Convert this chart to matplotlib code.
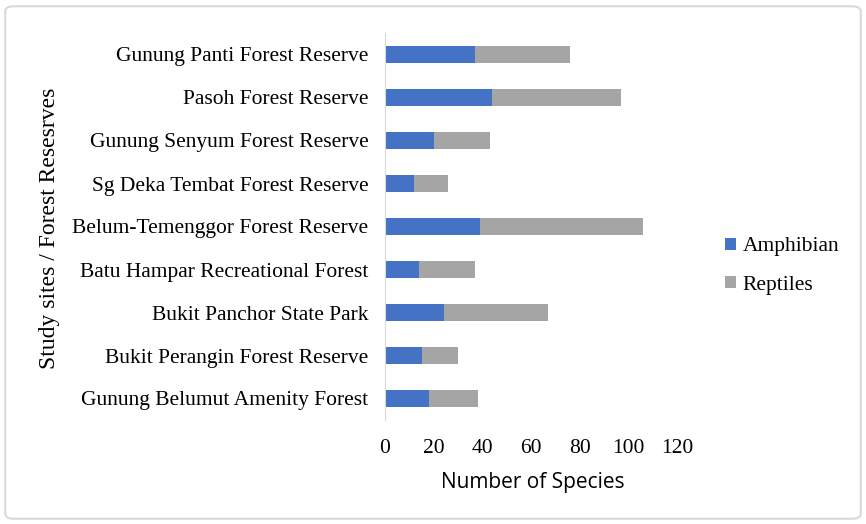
import matplotlib
matplotlib.use("Agg")
import matplotlib.pyplot as plt
from matplotlib.patches import FancyBboxPatch

sites = ["Gunung Panti Forest Reserve", "Pasoh Forest Reserve", "Gunung Senyum Forest Reserve",
         "Sg Deka Tembat Forest Reserve", "Belum-Temenggor Forest Reserve",
         "Batu Hampar Recreational Forest", "Bukit Panchor State Park",
         "Bukit Perangin Forest Reserve", "Gunung Belumut Amenity Forest"]
amphibian = [37, 44, 20, 12, 39, 14, 24, 15, 18]
reptiles = [39, 53, 23, 14, 67, 23, 43, 15, 20]
xticks = [0, 20, 40, 60, 80, 100, 120]

fig = plt.figure(figsize=(8.66, 5.24), dpi=100)
border = FancyBboxPatch((0.006, 0.01), 0.988, 0.978, boxstyle="round,pad=0,rounding_size=0.01",
                        transform=fig.transFigure, fill=False, edgecolor="#d9d9d9", linewidth=1.5)
fig.patches.append(border)

ax = fig.add_axes([385/866, 1-420/524, 295/866, (420-33)/524])
y = list(range(len(sites)))[::-1]
ax.barh(y, amphibian, height=0.4, color="#4472C4", label="Amphibian")
ax.barh(y, reptiles, left=amphibian, height=0.4, color="#A5A5A5", label="Reptiles")
ax.set_ylim(-0.5, len(sites)-0.5)
ax.set_xlim(0, 121)
ax.set_yticks(y)
ax.set_yticklabels(sites, fontfamily="Liberation Serif", fontsize=15.5)
ax.set_xticks(xticks)
ax.set_xticklabels([str(t) for t in xticks], fontfamily="Liberation Serif", fontsize=15.5)
ax.tick_params(length=0)
ax.tick_params(axis="y", pad=12)
ax.tick_params(axis="x", pad=14)
for s in ["top", "right", "bottom"]:
    ax.spines[s].set_visible(False)
ax.spines["left"].set_color("#d9d9d9")
ax.set_xlabel("Number of Species", fontfamily="Open Sans", fontsize=15, labelpad=10)
ax.set_ylabel("Study sites / Forest Resesrves", fontfamily="Liberation Serif", fontsize=17)
ax.yaxis.set_label_coords(60/866, 1-228/524, transform=fig.transFigure)
ax.legend(loc="center left", bbox_to_anchor=(706/866, 1-266/524), bbox_transform=fig.transFigure,
          frameon=False, prop={"family": "Liberation Serif", "size": 15.5},
          handlelength=0.5, handleheight=0.5, handletextpad=0.3, labelspacing=0.9)
fig.savefig("out.png", dpi=100)
